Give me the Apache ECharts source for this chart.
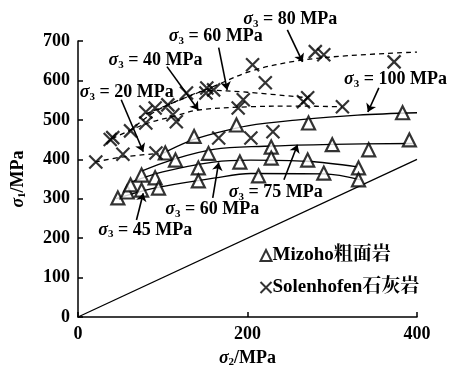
<!DOCTYPE html>
<html><head><meta charset="utf-8">
<script src="https://cdn.jsdelivr.net/npm/echarts@6/dist/echarts.min.js"></script>
<style>html,body{margin:0;padding:0;background:#fff}#c{width:459px;height:367px}</style>
</head><body><div id="c"></div>
<script>
// Mizoho trachyte tests (sigma2, sigma1), MPa
const mizohoPts = [[47,302],[58,317],[62,335],[75,360],[75,322],[91,353],[95,327],[103,416],[115,398],[137,458],[142,378],[142,345],[154,415],[187,487],[191,393],[213,358],[228,431],[228,403],[272,492],[383,518],[300,437],[343,424],[391,449],[271,398],[290,365],[331,378],[331,348]];
// Solenhofen limestone tests (sigma2, sigma1), MPa
const solenPts = [[21,393],[53,413],[92,416],[38,450],[41,455],[62,472],[80,492],[80,520],[91,530],[106,538],[112,513],[116,495],[128,568],[151,568],[160,576],[152,581],[166,454],[204,454],[230,470],[189,530],[195,551],[206,640],[221,594],[266,546],[271,556],[280,673],[290,665],[312,533],[373,647]];

// fitted strength curves, one per sigma3
const mizohoCurves = {
  45: [[45,300],[90,327],[160,352],[204,364],[290,363],[334,348]],
  60: [[60,340],[100,368],[160,393],[204,398],[270,395],[330,381]],
  75: [[75,370],[110,398],[160,425],[220,433],[300,438],[395,440]],
  100: [[100,415],[130,445],[160,465],[200,485],[260,500],[330,512],[400,518]]
};
const solenCurves = {
  20: [[20,393],[50,405],[95,415]],
  40: [[40,452],[80,490],[115,510],[142,525],[200,533],[260,535],[312,533]],
  60: [[60,470],[90,520],[125,555],[155,575],[200,570],[271,556]],
  80: [[80,515],[120,550],[160,585],[206,625],[260,650],[320,663],[400,672]]
};
const diagonal = [[0,0],[400,400]];

// annotation text: [sigma3 value, left x, middle y] in axis units
const notes = [
  ['80', 195, 754], ['60', 107, 711], ['40', 36, 650], ['20', 2, 569],
  ['100', 314, 602], ['75', 178, 315], ['60', 103, 272], ['45', 24, 221]
];
// leader arrows: [from, to] in axis units
const arrows = [
  [[247,728],[265,647]], [[166,683],[176,576]], [[105,635],[142,525]], [[51,551],[77,419]],
  [[355,581],[342,520]], [[243,348],[259,437]], [[159,302],[166,392]], [[69,246],[77,314]]
];

const SERIF = '"Liberation Serif","Times New Roman","Noto Serif CJK SC","Noto Sans CJK SC",serif';
const richSig = {
  s: {fontFamily: SERIF, fontStyle: 'italic', fontWeight: 'bold', fontSize: 18, lineHeight: 20, color: '#000'},
  b: {fontFamily: SERIF, fontWeight: 'bold', fontSize: 11, lineHeight: 12, verticalAlign: 'bottom', color: '#000'},
  t: {fontFamily: SERIF, fontWeight: 'bold', fontSize: 18, lineHeight: 20, color: '#000'}
};

const crossPath = 'path://M0,0L10,10M10,0L0,10';
const series = [];
series.push({type: 'line', data: diagonal, symbol: 'none', silent: true,
  lineStyle: {color: '#000', width: 1.3}});
Object.keys(mizohoCurves).forEach(k => series.push({
  type: 'line', data: mizohoCurves[k], smooth: 0.35, symbol: 'none', silent: true,
  lineStyle: {color: '#000', width: 1.3}
}));
Object.keys(solenCurves).forEach(k => series.push({
  type: 'line', data: solenCurves[k], smooth: 0.35, symbol: 'none', silent: true,
  lineStyle: {color: '#000', width: 1.3, type: [5, 4]}
}));
series.push({
  name: 'Mizoho粗面岩', type: 'scatter', data: mizohoPts, symbol: 'triangle', symbolSize: 13, z: 5,
  itemStyle: {color: '#fff', borderColor: '#000', borderWidth: 2.2}
});
series.push({
  name: 'Solenhofen石灰岩', type: 'scatter', data: solenPts, symbol: crossPath, symbolSize: 13, z: 5,
  itemStyle: {color: 'none', borderColor: '#000', borderWidth: 2.2}
});
series.push({
  type: 'lines', coordinateSystem: 'cartesian2d', clip: false, silent: true, z: 6,
  symbol: ['none', 'arrow'], symbolSize: [0, 8],
  lineStyle: {color: '#000', width: 1.6, opacity: 1},
  data: arrows.map(a => ({coords: a}))
});

const chart = echarts.init(document.getElementById('c'), null, {renderer: 'canvas'});
const axisText = {fontFamily: SERIF, fontWeight: 'bold', fontSize: 18, color: '#000'};
chart.setOption({
  animation: false,
  backgroundColor: '#fff',
  grid: {left: 78, right: 42, top: 41, bottom: 50, containLabel: false, outerBoundsMode: 'none'},
  xAxis: {
    type: 'value', min: 0, max: 400, interval: 200,
    axisLine: {lineStyle: {color: '#000', width: 1.5}},
    axisTick: {inside: true, length: 5, lineStyle: {color: '#000', width: 1.5}},
    splitLine: {show: false},
    axisLabel: Object.assign({margin: 8}, axisText),
    name: '{s|σ}{b|2}{t|/MPa}', nameLocation: 'middle', nameGap: 31,
    nameTextStyle: {rich: richSig}
  },
  yAxis: {
    type: 'value', min: 0, max: 700, interval: 100,
    axisLine: {lineStyle: {color: '#000', width: 1.5}},
    axisTick: {inside: true, length: 5, lineStyle: {color: '#000', width: 1.5}},
    splitLine: {show: false},
    axisLabel: Object.assign({margin: 8}, axisText),
    name: '{s|σ}{b|1}{t|/MPa}', nameLocation: 'middle', nameGap: 50, nameRotate: 90,
    nameTextStyle: {rich: richSig}
  },
  legend: {
    orient: 'vertical', left: 253, top: 241, itemGap: 13, itemWidth: 11, itemHeight: 11,
    selectedMode: false,
    data: ['Mizoho粗面岩', 'Solenhofen石灰岩'],
    textStyle: {fontFamily: SERIF, fontWeight: 'bold', fontSize: 19, color: '#000', padding: [0,0,0,-4]}
  },
  series: series
});

chart.setOption({
  graphic: notes.map(n => {
    const p = chart.convertToPixel({gridIndex: 0}, [n[1], n[2]]);
    return {
      type: 'text', x: p[0], y: p[1], z: 10,
      style: {text: '{s|σ}{b|3}{t| = ' + n[0] + ' MPa}', rich: richSig, verticalAlign: 'middle', align: 'left'}
    };
  })
});
</script></body></html>
